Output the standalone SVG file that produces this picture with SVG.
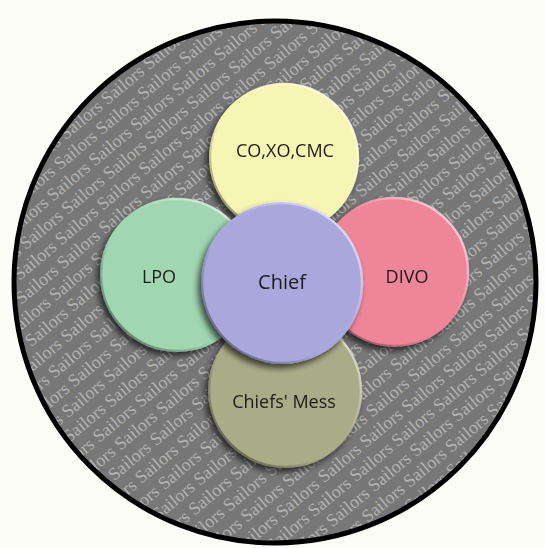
<svg xmlns="http://www.w3.org/2000/svg" xmlns:xlink="http://www.w3.org/1999/xlink" width="545" height="548" viewBox="0 0 545 548">
<style>
.row{font-family:"Liberation Serif",serif;font-size:18px;fill:#b3b3b3}
.lbl{font-family:"Open Sans","Noto Sans",sans-serif;font-size:18px;fill:#1c1c1c;text-anchor:middle}
.bev{fill:none;stroke:url(#bevel);stroke-width:2.5}
</style>
<defs>
<clipPath id="clip"><circle cx="275" cy="282" r="259"/></clipPath>
<text id="r" class="row" x="0" y="0">Sailors Sailors Sailors Sailors Sailors Sailors Sailors Sailors Sailors Sailors Sailors Sailors Sailors Sailors Sailors Sailors</text>
<filter id="sh" x="-25%" y="-25%" width="150%" height="150%">
<feGaussianBlur in="SourceAlpha" stdDeviation="3"/>
<feOffset dx="-3" dy="4" result="o"/>
<feComponentTransfer in="o" result="s"><feFuncA type="linear" slope="0.65"/></feComponentTransfer>
<feMerge><feMergeNode in="s"/><feMergeNode in="SourceGraphic"/></feMerge>
</filter>
<linearGradient id="bevel" x1="1" y1="0" x2="0" y2="1">
<stop offset="0" stop-color="#fff" stop-opacity="0.8"/>
<stop offset="0.45" stop-color="#fff" stop-opacity="0"/>
<stop offset="0.6" stop-color="#000" stop-opacity="0"/>
<stop offset="1" stop-color="#000" stop-opacity="0.55"/>
</linearGradient>
</defs>
<rect width="545" height="548" fill="#fdfdf8"/>
<g id="background">
<circle cx="275" cy="282" r="261" fill="#777777"/>
<g clip-path="url(#clip)">
<g transform="rotate(-40 275 282)">
<use xlink:href="#r" x="-160" y="0"/>
<use xlink:href="#r" x="-128" y="19.5"/>
<use xlink:href="#r" x="-176" y="39"/>
<use xlink:href="#r" x="-145" y="58.5"/>
<use xlink:href="#r" x="-116" y="78"/>
<use xlink:href="#r" x="-168" y="97.5"/>
<use xlink:href="#r" x="-138" y="117"/>
<use xlink:href="#r" x="-152" y="136.5"/>
<use xlink:href="#r" x="-124" y="156"/>
<use xlink:href="#r" x="-172" y="175.5"/>
<use xlink:href="#r" x="-142" y="195"/>
<use xlink:href="#r" x="-120" y="214.5"/>
<use xlink:href="#r" x="-165" y="234"/>
<use xlink:href="#r" x="-135" y="253.5"/>
<use xlink:href="#r" x="-150" y="273"/>
<use xlink:href="#r" x="-127" y="292.5"/>
<use xlink:href="#r" x="-170" y="312"/>
<use xlink:href="#r" x="-140" y="331.5"/>
<use xlink:href="#r" x="-121" y="351"/>
<use xlink:href="#r" x="-162" y="370.5"/>
<use xlink:href="#r" x="-132" y="390"/>
<use xlink:href="#r" x="-155" y="409.5"/>
<use xlink:href="#r" x="-126" y="429"/>
<use xlink:href="#r" x="-174" y="448.5"/>
<use xlink:href="#r" x="-144" y="468"/>
<use xlink:href="#r" x="-119" y="487.5"/>
<use xlink:href="#r" x="-166" y="507"/>
<use xlink:href="#r" x="-136" y="526.5"/>
<use xlink:href="#r" x="-151" y="546"/>
<use xlink:href="#r" x="-127" y="565.5"/>
</g>
</g>
<circle cx="275" cy="282" r="261" fill="none" stroke="#000" stroke-width="5"/>
</g>
<g id="connectors"/>
<g id="chiefs-mess" filter="url(#sh)">
<circle cx="285" cy="391" r="77" fill="#aaab87"/>
<circle class="bev" cx="285" cy="391" r="76"/>
<text class="lbl" x="284" y="408">Chiefs' Mess</text>
</g>
<g id="co-xo-cmc" filter="url(#sh)">
<circle cx="284" cy="158" r="75" fill="#f7f5b4"/>
<circle class="bev" cx="284" cy="158" r="74"/>
<text class="lbl" x="285" y="157">CO,XO,CMC</text>
</g>
<g id="lpo" filter="url(#sh)">
<circle cx="177" cy="275" r="77" fill="#a0d6b1"/>
<circle class="bev" cx="177" cy="275" r="76"/>
<text class="lbl" x="159" y="283" fill="#1f3326">LPO</text>
</g>
<g id="divo" filter="url(#sh)">
<circle cx="394" cy="272" r="75" fill="#ee8599"/>
<circle class="bev" cx="394" cy="272" r="74"/>
<text class="lbl" x="407" y="283">DIVO</text>
</g>
<g id="chief" filter="url(#sh)">
<circle cx="282" cy="283" r="81" fill="#a9a7dc"/>
<circle class="bev" cx="282" cy="283" r="80"/>
<text class="lbl" x="282" y="289" style="font-size:20px">Chief</text>
</g>
</svg>
